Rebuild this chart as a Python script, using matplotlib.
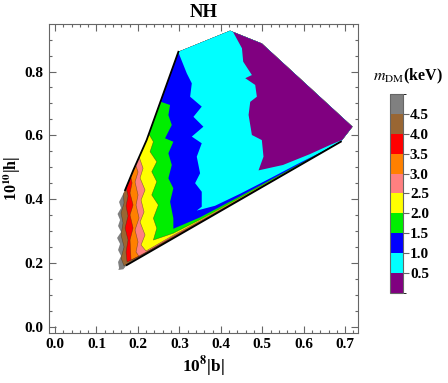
import matplotlib
matplotlib.use('Agg')
import matplotlib.pyplot as plt
from matplotlib.patches import Polygon
from matplotlib.colors import ListedColormap, BoundaryNorm
from matplotlib.cm import ScalarMappable
from matplotlib.ticker import MultipleLocator

plt.rcParams['font.family'] = ['Liberation Serif', 'DejaVu Serif']
plt.rcParams['mathtext.fontset'] = 'stix'

# colour bands of m_DM (keV)
levels = [0.0, 0.5, 1.0, 1.5, 2.0, 2.5, 3.0, 3.5, 4.0, 4.5, 5.0]
band_colors = ['#800080', '#00ffff', '#0000ff', '#00ee00', '#ffff00',
               '#ff8080', '#ff8000', '#ff0000', '#996633', '#808080']
cbar_ticks = [0.5, 1.0, 1.5, 2.0, 2.5, 3.0, 3.5, 4.0, 4.5]

# allowed region in the (|b|, |h|) plane
outer = [(0.173, 0.193), (0.6896, 0.580), (0.7177, 0.627), (0.499, 0.888),
         (0.4224, 0.928), (0.2977, 0.862), (0.221, 0.585), (0.189, 0.491),
         (0.169, 0.428), (0.1610, 0.4075), (0.1545, 0.3909), (0.1593, 0.3721),
         (0.1509, 0.3533), (0.1569, 0.3345), (0.1521, 0.3157), (0.1593, 0.2969),
         (0.1497, 0.2781), (0.1569, 0.2593), (0.1521, 0.2404), (0.1593, 0.2216),
         (0.1521, 0.2028), (0.1545, 0.1840), (0.1528, 0.1777), (0.1648, 0.1799)]

# contour lines, from the lower-right corner round to the upper/left edge
c05 = [(0.690, 0.584), (0.664, 0.570), (0.615, 0.541), (0.550, 0.507),
       (0.491, 0.490), (0.503, 0.533), (0.499, 0.585), (0.475, 0.601),
       (0.467, 0.664), (0.471, 0.705), (0.487, 0.721), (0.483, 0.758),
       (0.459, 0.779), (0.475, 0.789), (0.454, 0.831), (0.451, 0.873),
       (0.427, 0.930), (0.422, 0.993)]
c10 = [(0.690, 0.581), (0.6445, 0.549), (0.591, 0.514), (0.519, 0.465),
       (0.447, 0.417), (0.386, 0.379), (0.342, 0.364), (0.354, 0.376),
       (0.354, 0.423), (0.338, 0.450), (0.350, 0.481), (0.342, 0.533),
       (0.354, 0.575), (0.330, 0.596), (0.358, 0.627), (0.334, 0.658),
       (0.354, 0.690), (0.326, 0.721), (0.330, 0.763), (0.318, 0.794),
       (0.298, 0.859), (0.292, 0.899)]
c15 = [(0.690, 0.5808), (0.6396, 0.5450), (0.5431, 0.4764), (0.4465, 0.4088),
       (0.350, 0.3428), (0.2855, 0.3070), (0.2855, 0.3398), (0.2776, 0.3918),
       (0.2855, 0.4339), (0.2735, 0.4652), (0.2817, 0.5069), (0.2735, 0.5436),
       (0.2855, 0.5799), (0.2655, 0.5906), (0.2817, 0.6323), (0.2735, 0.6636),
       (0.2776, 0.6950), (0.249, 0.708)]
c20 = [(0.690, 0.5805), (0.6396, 0.5441), (0.5431, 0.4739), (0.4465, 0.4042),
       (0.350, 0.3356), (0.2855, 0.2930), (0.2373, 0.2716), (0.2455, 0.3085),
       (0.2373, 0.3398), (0.2493, 0.3815), (0.2334, 0.4129), (0.2455, 0.4545),
       (0.2334, 0.4859), (0.2455, 0.5172), (0.2293, 0.5486), (0.2373, 0.5799),
       (0.2293, 0.5978), (0.2221, 0.6103)]
c25 = [(0.690, 0.5802), (0.6396, 0.5431), (0.5431, 0.4720), (0.4465, 0.4016),
       (0.350, 0.3319), (0.2855, 0.2867), (0.2196, 0.2373), (0.2076, 0.2561),
       (0.2172, 0.2875), (0.2052, 0.3282), (0.2148, 0.3596), (0.2076, 0.3972),
       (0.2172, 0.4285), (0.2052, 0.4661), (0.2124, 0.4966), (0.2028, 0.5329),
       (0.1979, 0.5476)]
c30 = [(0.690, 0.5802), (0.5914, 0.5070), (0.4465, 0.4000), (0.350, 0.3297),
       (0.2855, 0.2837), (0.2028, 0.2200), (0.1955, 0.2342), (0.2003, 0.2655),
       (0.1931, 0.3031), (0.2028, 0.3408), (0.1955, 0.3815), (0.2003, 0.4129),
       (0.1931, 0.4536), (0.2003, 0.4850), (0.1931, 0.5122), (0.1883, 0.5226)]
c35 = [(0.690, 0.5802), (0.4948, 0.4349), (0.350, 0.3281), (0.2293, 0.2399),
       (0.1834, 0.2086), (0.1810, 0.2718), (0.1883, 0.3094), (0.1810, 0.3502),
       (0.1883, 0.3815), (0.1810, 0.4191), (0.1859, 0.4505), (0.1810, 0.4809),
       (0.1762, 0.4912)]
c40 = [(0.690, 0.5802), (0.350, 0.3269), (0.2052, 0.2218), (0.1738, 0.2028),
       (0.1714, 0.2342), (0.1762, 0.2718), (0.1690, 0.3094), (0.1762, 0.3470),
       (0.1714, 0.3784), (0.1762, 0.4097), (0.1714, 0.4389), (0.1641, 0.4505)]
c45 = [(0.690, 0.5802), (0.350, 0.3259), (0.1810, 0.2021), (0.1665, 0.1903),
       (0.1593, 0.2154), (0.1665, 0.2498), (0.1593, 0.2875), (0.1641, 0.3251),
       (0.1593, 0.3564), (0.1665, 0.3878), (0.1649, 0.4182), (0.1593, 0.4348)]

fig = plt.figure(figsize=(4.48, 3.83), dpi=100)
ax = fig.add_axes([0.1094, 0.1313, 0.6897, 0.806])

region = Polygon(outer, closed=True, facecolor=band_colors[-1], edgecolor='none')
ax.add_patch(region)

# paint the sub-level sets from high to low value
contours = [c45, c40, c35, c30, c25, c20, c15, c10, c05]
fill_cols = band_colors[-2::-1]
for pts, col in zip(contours, fill_cols):
    poly = list(pts) + [(pts[-1][0], 1.5), (1.5, 1.5), (1.5, pts[0][1])]
    p = Polygon(poly, closed=True, facecolor=col, edgecolor='none')
    ax.add_patch(p)
    p.set_clip_path(region)

for pts in [c45, c40, c35, c30, c25, c20]:
    ln, = ax.plot([q[0] for q in pts], [q[1] for q in pts], color='#3a2a1a',
                  lw=0.4, alpha=0.6)
    ln.set_clip_path(region)

# black frame of the left and lower edges
lower = outer[0:2]
left = outer[5:9]
ax.plot([q[0] for q in lower], [q[1] for q in lower], color='black', lw=1.3)
ax.plot([q[0] for q in left], [q[1] for q in left], color='black', lw=1.3)

ax.set_xlim(-0.0145, 0.731)
ax.set_ylim(-0.019, 0.949)
ax.xaxis.set_major_locator(MultipleLocator(0.1))
ax.xaxis.set_minor_locator(MultipleLocator(0.02))
ax.yaxis.set_major_locator(MultipleLocator(0.2))
ax.yaxis.set_minor_locator(MultipleLocator(0.05))
ax.tick_params(which='both', direction='in', top=True, right=True,
               color='#666666', width=0.8)
ax.tick_params(which='major', length=5, labelsize=11, pad=4)
ax.tick_params(which='minor', length=2.5)
for s in ax.spines.values():
    s.set_color('#666666')
for lab in ax.get_xticklabels() + ax.get_yticklabels():
    lab.set_fontweight('bold')

ax.set_title('NH', fontsize=13.5, fontweight='bold', pad=5)
ax.set_xlabel(r'10$^{\mathbf{8}}$|b|', fontsize=12.5, fontweight='bold', labelpad=2)
fig.text(0.027, 0.535, r'10$^{\mathbf{10}}$|h|', fontsize=11.5, fontweight='bold',
         rotation=90, ha='center', va='center')

cax = fig.add_axes([0.8705, 0.235, 0.029, 0.5196])
cmap = ListedColormap(band_colors)
norm = BoundaryNorm(levels, cmap.N)
cb = fig.colorbar(ScalarMappable(norm=norm, cmap=cmap), cax=cax, ticks=cbar_ticks)
cb.outline.set_edgecolor('#666666')
cb.outline.set_linewidth(0.8)
cax.tick_params(length=4, color='#666666', labelsize=11, pad=1)
for lab in cax.get_yticklabels():
    lab.set_fontweight('bold')
fig.text(0.832, 0.80, r'$m_{\rm DM}$(keV)', fontsize=11.5, fontweight='bold',
         ha='left', va='center')

fig.savefig('out.png', dpi=100)
